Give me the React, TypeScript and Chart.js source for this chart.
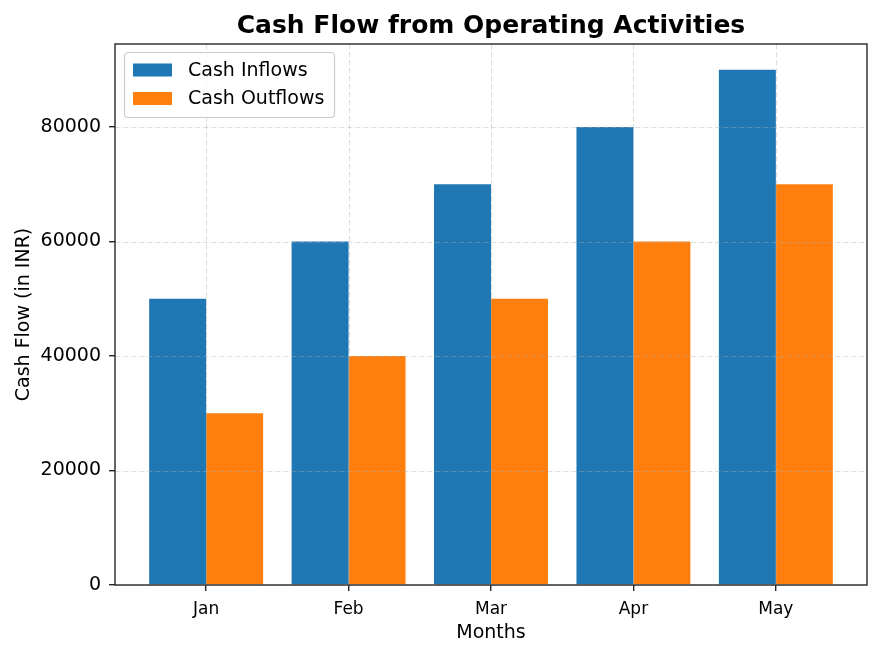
import React, { useEffect, useRef } from "react";
import { Chart, registerables } from "chart.js";

Chart.register(...registerables);

// Monthly operating cash flows (INR)
const months = ["Jan", "Feb", "Mar", "Apr", "May"];
const cashInflows = [50000, 60000, 70000, 80000, 90000];
const cashOutflows = [30000, 40000, 50000, 60000, 70000];
const yTickValues = [0, 20000, 40000, 60000, 80000];

const FONT = "'DejaVu Sans', 'Liberation Sans', sans-serif";
const BLUE = "#1f77b4";
const ORANGE = "#ff7f0e";
const SPINE = "#262626";

// Dashed grid drawn above the bars, then the axes frame, legend and title.
const overlayPlugin = {
  id: "overlay",
  afterDatasetsDraw(chart: any) {
    const { ctx, chartArea, scales } = chart;
    const { left, right, top, bottom } = chartArea;
    ctx.save();
    ctx.strokeStyle = "rgba(176,176,176,0.4)";
    ctx.lineWidth = 1.1;
    ctx.setLineDash([5.5, 2.5]);
    months.forEach((_, i) => {
      const x = Math.round(scales.x.getPixelForValue(i)) + 0.5;
      ctx.beginPath();
      ctx.moveTo(x, top);
      ctx.lineTo(x, bottom);
      ctx.stroke();
    });
    yTickValues.forEach((v) => {
      const y = Math.round(scales.y.getPixelForValue(v)) + 0.5;
      ctx.beginPath();
      ctx.moveTo(left, y);
      ctx.lineTo(right, y);
      ctx.stroke();
    });
    ctx.restore();
  },
  afterDraw(chart: any) {
    const { ctx, chartArea } = chart;
    const { left, right, top, bottom } = chartArea;
    ctx.save();
    // frame
    ctx.strokeStyle = SPINE;
    ctx.lineWidth = 1.4;
    ctx.strokeRect(left, top, right - left, bottom - top);

    // title
    ctx.fillStyle = "#000";
    ctx.font = `bold 25px ${FONT}`;
    ctx.textAlign = "center";
    ctx.textBaseline = "alphabetic";
    ctx.fillText("Cash Flow from Operating Activities", (left + right) / 2, 33);

    // legend box
    const bx = left + 9.5;
    const by = top + 8.5;
    const bw = 210;
    const bh = 65;
    const r = 4;
    ctx.beginPath();
    ctx.moveTo(bx + r, by);
    ctx.lineTo(bx + bw - r, by);
    ctx.quadraticCurveTo(bx + bw, by, bx + bw, by + r);
    ctx.lineTo(bx + bw, by + bh - r);
    ctx.quadraticCurveTo(bx + bw, by + bh, bx + bw - r, by + bh);
    ctx.lineTo(bx + r, by + bh);
    ctx.quadraticCurveTo(bx, by + bh, bx, by + bh - r);
    ctx.lineTo(bx, by + r);
    ctx.quadraticCurveTo(bx, by, bx + r, by);
    ctx.closePath();
    ctx.fillStyle = "rgba(255,255,255,0.8)";
    ctx.fill();
    ctx.strokeStyle = "#cccccc";
    ctx.lineWidth = 1.2;
    ctx.stroke();

    const entries = [
      { label: "Cash Inflows", color: BLUE },
      { label: "Cash Outflows", color: ORANGE },
    ];
    ctx.font = `19px ${FONT}`;
    ctx.textAlign = "left";
    ctx.textBaseline = "middle";
    entries.forEach((e, i) => {
      const cy = top + 26 + i * 28.5;
      ctx.fillStyle = e.color;
      ctx.fillRect(left + 18, cy - 6.5, 39, 13);
      ctx.fillStyle = "#000";
      ctx.fillText(e.label, left + 73, cy + 1);
    });
    ctx.restore();
  },
};

export default function App() {
  const canvasRef = useRef<HTMLCanvasElement>(null);

  useEffect(() => {
    document.body.style.margin = "0";
    const canvas = canvasRef.current;
    if (!canvas) return;

    const chart = new Chart(canvas, {
      type: "bar",
      data: {
        datasets: [
          {
            label: "Cash Inflows",
            data: cashInflows.map((v, i) => ({ x: i, y: v })),
            backgroundColor: BLUE,
            borderWidth: 0,
            categoryPercentage: 0.8,
            barPercentage: 1.0,
          },
          {
            label: "Cash Outflows",
            data: cashOutflows.map((v, i) => ({ x: i, y: v })),
            backgroundColor: ORANGE,
            borderWidth: 0,
            categoryPercentage: 0.8,
            barPercentage: 1.0,
          },
        ],
      },
      options: {
        responsive: false,
        animation: false,
        devicePixelRatio: 1,
        events: [],
        layout: { padding: { left: 0, right: 15, top: 44, bottom: 0 } },
        plugins: {
          legend: { display: false },
          title: { display: false },
          tooltip: { enabled: false },
        },
        scales: {
          x: {
            type: "linear",
            min: -0.64,
            max: 4.64,
            offset: false,
            afterBuildTicks: (scale: any) => {
              scale.ticks = months.map((_, i) => ({ value: i }));
            },
            afterFit: (scale: any) => {
              scale.height = 72;
            },
            ticks: {
              callback: (v: any) => months[Math.round(Number(v))] ?? "",
              color: "#000",
              font: { family: FONT, size: 17 },
              padding: 8,
              maxRotation: 0,
              autoSkip: false,
            },
            grid: {
              display: true,
              offset: false,
              drawOnChartArea: false,
              drawTicks: true,
              tickLength: 6,
              color: SPINE,
              lineWidth: 1.4,
            },
            border: { display: false },
            title: {
              display: true,
              text: "Months",
              color: "#000",
              font: { family: FONT, size: 19 },
              padding: { top: 0, bottom: 12.5 },
            },
          },
          y: {
            type: "linear",
            min: 0,
            max: 94500,
            afterBuildTicks: (scale: any) => {
              scale.ticks = yTickValues.map((v) => ({ value: v }));
            },
            afterFit: (scale: any) => {
              scale.width = 115;
            },
            ticks: {
              callback: (v: any) => String(v),
              color: "#000",
              font: { family: FONT, size: 19 },
              padding: 8,
            },
            grid: {
              display: true,
              drawOnChartArea: false,
              drawTicks: true,
              tickLength: 6,
              color: SPINE,
              lineWidth: 1.4,
            },
            border: { display: false },
            title: {
              display: true,
              text: "Cash Flow (in INR)",
              color: "#000",
              font: { family: FONT, size: 19 },
              padding: { top: 13, bottom: 0 },
            },
          },
        },
      } as any,
      plugins: [overlayPlugin],
    });

    return () => chart.destroy();
  }, []);

  return (
    <div style={{ position: "absolute", left: 0, top: 0, width: 882, height: 657, background: "#fff" }}>
      <canvas ref={canvasRef} width={882} height={657} />
    </div>
  );
}
